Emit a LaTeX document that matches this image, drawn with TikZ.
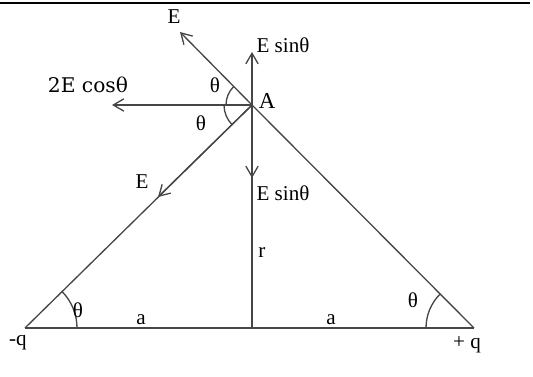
\documentclass[tikz,border=0pt]{standalone}
\usepackage{fontspec}
\setmainfont{Liberation Serif}
\newfontfamily\widefont{DejaVu Serif}
\usetikzlibrary{arrows.meta}
\definecolor{wire}{RGB}{70,70,70}

\begin{document}
\begin{tikzpicture}[x=0.02cm,y=0.02cm,
    line/.style={wire,line width=0.75pt},
    vec/.style={wire,line width=0.75pt,-{Straight Barb[length=6pt,width=7pt]}},
    lbl/.style={font=\fontsize{12}{14}\selectfont,inner sep=1pt}]
    \useasboundingbox (0,0) rectangle (533,376);
    \draw[line width=1.2pt] (0,373)--(530,373);
    % triangle and height
    \coordinate (nq) at (25,48);
    \coordinate (pq) at (474,48);
    \coordinate (O) at (252,48);
    \coordinate (A) at (252,271);
    \draw[line] (nq)--(pq);
    \draw[line] (nq)--(A);
    \draw[line] (pq)--(A);
    \draw[line] (O)--(A);
    % field vectors at A
    \coordinate (Etip) at (180,344);
    \coordinate (upTip) at (252,324);
    \coordinate (leftTip) at (112,271);
    \coordinate (downTip) at (252,198);
    \coordinate (lowTip) at (158,179);
    \draw[vec] (A)--(Etip);
    \draw[vec] (A)--(upTip);
    \draw[vec] (A)--(leftTip);
    \draw[vec] (A)--(downTip);
    \draw[vec] (A)--(lowTip);
    % angles
    \draw[line] ([shift={(180:26)}]A) arc (180:135:26);
    \draw[line] ([shift={(180:28)}]A) arc (180:225:28);
    \draw[line] ([shift={(0:52)}]nq) arc (0:44.5:52);
    \draw[line] ([shift={(180:48)}]pq) arc (180:135:48);
    % labels
    \node[lbl] (lE) at (174,359) {E};
    \node[lbl] (lEsinUp) at (283,331) {E sinθ};
    \node[lbl,font=\widefont\fontsize{11.5}{14}\selectfont] (l2Ecos) at (88,291) {2E cosθ};
    \node[lbl,font=\fontsize{13}{15}\selectfont] (lA) at (267,275) {A};
    \node[lbl] (thUp) at (215,291) {θ};
    \node[lbl] (thLow) at (201,253) {θ};
    \node[lbl] (lElow) at (142,194) {E};
    \node[lbl] (lEsinLow) at (283,183) {E sinθ};
    \node[lbl] (lr) at (262,123) {r};
    \node[lbl] (la1) at (141,56) {a};
    \node[lbl] (la2) at (331,56) {a};
    \node[lbl] (lnq) at (18,33) {-q};
    \node[lbl] (lpq) at (467,31) {+ q};
    \node[lbl] (thL) at (78,66) {θ};
    \node[lbl] (thR) at (413,76) {θ};
\end{tikzpicture}
\end{document}
